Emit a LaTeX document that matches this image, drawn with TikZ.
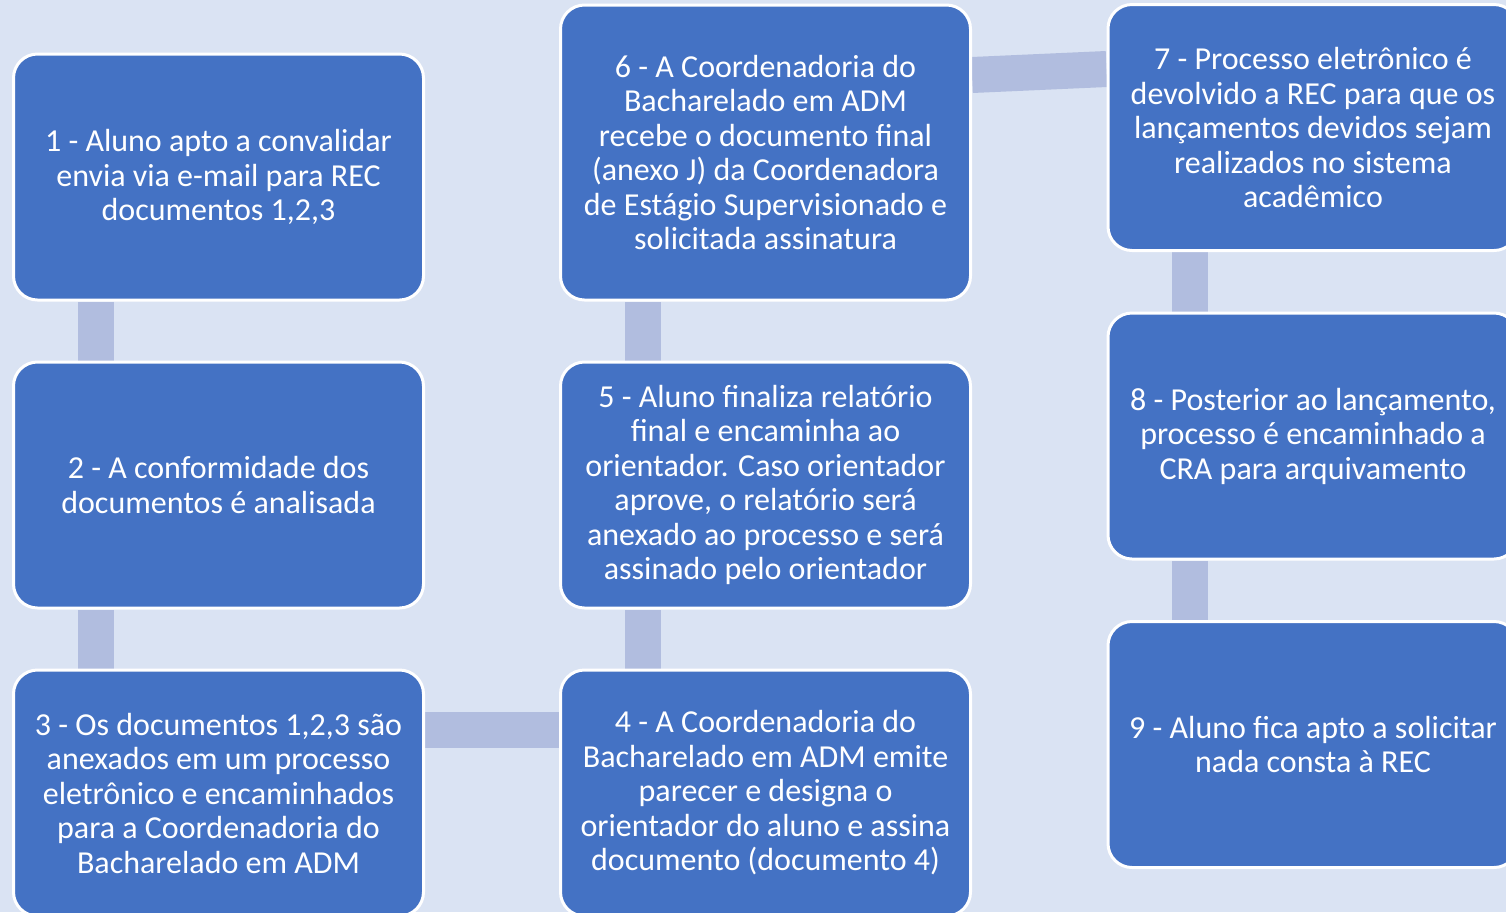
\documentclass[tikz,border=0pt]{standalone}
\usepackage{fontspec}
\setmainfont{Carlito}
\usetikzlibrary{backgrounds}

\definecolor{fundo}{HTML}{DAE3F3}
\definecolor{caixa}{HTML}{4472C4}
\definecolor{barra}{HTML}{B1BDDF}

\tikzset{
  etapa/.style={draw=white, line width=1.5pt, fill=caixa, rounded corners=12pt,
    text=white, align=center, inner sep=2pt,
    minimum width=205pt, minimum height=123pt,
    execute at begin node={\rule{0pt}{16pt}},
    font=\fontsize{16}{17.25}\selectfont},
  ligacao/.style={draw=barra, line width=18pt}
}

\begin{document}
\begin{tikzpicture}[x=0.5pt,y=-0.5pt]
  \useasboundingbox (0,0) rectangle (1506,912);

  % Coluna 1
  \node[etapa] (e1) at (218.5,177) {1 - Aluno apto a convalidar\\envia via e-mail para REC\\documentos 1,2,3};
  \node[etapa] (e2) at (218.5,485) {2 - A conformidade dos\\documentos é analisada};
  \node[etapa] (e3) at (218.5,793) {3 - Os documentos 1,2,3 são\\anexados em um processo\\eletrônico e encaminhados\\para a Coordenadoria do\\Bacharelado em ADM};

  % Coluna 2
  \node[etapa] (e4) at (765.5,793) {4 - A Coordenadoria do\\Bacharelado em ADM emite\\parecer e designa o\\orientador do aluno e assina\\documento (documento 4)};
  \node[etapa] (e5) at (765.5,485) {5 - Aluno finaliza relatório\\final e encaminha ao\\orientador. Caso orientador\\aprove, o relatório será\\anexado ao processo e será\\assinado pelo orientador};
  \node[etapa, minimum height=147.5pt] (e6) at (765.5,152.5) {6 - A Coordenadoria do\\Bacharelado em ADM\\recebe o documento final\\(anexo J) da Coordenadora\\de Estágio Supervisionado e\\solicitada assinatura};

  % Coluna 3
  \node[etapa] (e7) at (1313,127.5) {7 - Processo eletrônico é\\devolvido a REC para que os\\lançamentos devidos sejam\\realizados no sistema\\acadêmico};
  \node[etapa] (e8) at (1313,436) {8 - Posterior ao lançamento,\\processo é encaminhado a\\CRA para arquivamento};
  \node[etapa] (e9) at (1313,744.5) {9 - Aluno fica apto a solicitar\\nada consta à REC};

  % Ligações
  \begin{scope}[on background layer]
    \fill[fundo] (0,0) rectangle (1506,912);
    \draw[ligacao] ([xshift=-61.25pt]e1.south) -- ([xshift=-61.25pt]e2.north);
    \draw[ligacao] ([xshift=-61.25pt]e2.south) -- ([xshift=-61.25pt]e3.north);
    \draw[ligacao] ([yshift=31.5pt]e3.east) -- ([yshift=31.5pt]e4.west);
    \draw[ligacao] ([xshift=-61.25pt]e4.north) -- ([xshift=-61.25pt]e5.south);
    \draw[ligacao] ([xshift=-61.25pt]e5.north) -- ([xshift=-61.25pt]e6.south);
    \draw[ligacao] ([yshift=38.75pt]e6.east) -- ([yshift=29.25pt]e7.west);
    \draw[ligacao] ([xshift=-61.5pt]e7.south) -- ([xshift=-61.5pt]e8.north);
    \draw[ligacao] ([xshift=-61.5pt]e8.south) -- ([xshift=-61.5pt]e9.north);
  \end{scope}
\end{tikzpicture}
\end{document}
